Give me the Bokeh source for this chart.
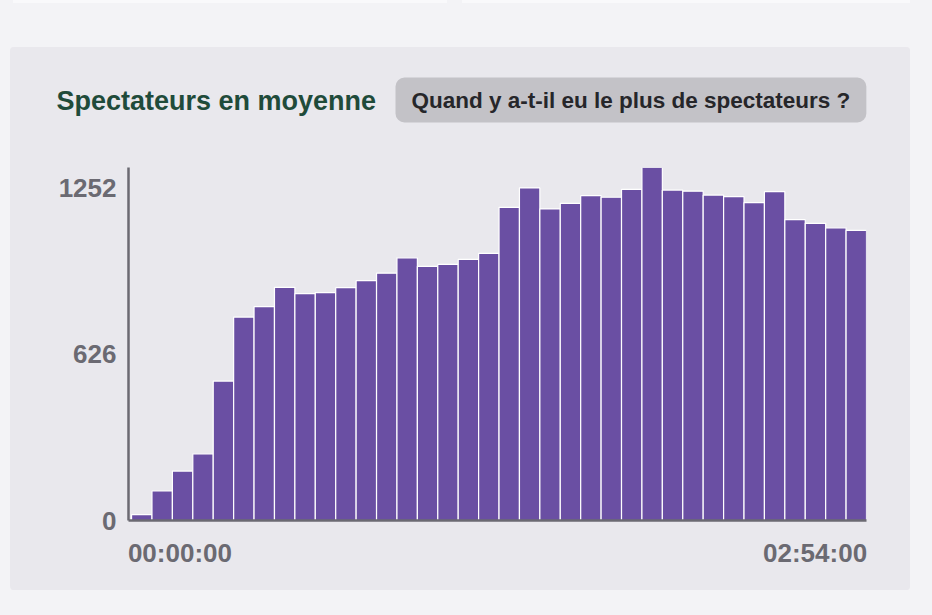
from bokeh.plotting import figure
from bokeh.models import Range1d, FixedTicker, Label, ColumnDataSource, Spacer
from bokeh.layouts import column, row
from bokeh.embed import file_html
from bokeh.resources import INLINE

# ---- data ----
bins = list(range(36))
spectators = [22, 111, 186, 251, 525, 766, 805, 878, 854, 858, 877, 903,
              931, 989, 957, 964, 983, 1006, 1179, 1252, 1173, 1194, 1223, 1217,
              1247, 1329, 1244, 1240, 1225, 1219, 1197, 1238, 1133, 1119, 1102, 1092]
y_ticks = [0, 626, 1252]
x_tick_labels = ["00:00:00", "02:54:00"]
title_text = "Spectateurs en moyenne"
button_text = "Quand y a-t-il eu le plus de spectateurs ?"

FONT = "Liberation Sans"
AXIS_COL = "#6b6a72"
BAR_COL = "#6a4fa3"
PANEL = "#e9e8ed"
PAGE = "#f3f3f6"
CARD = "#f9f9fb"

W = 900
HEAD_H = 110
H = 433
FL, FR, FT, FB = 118, 44, 10, 70
x0, x1 = -0.15, len(bins)
TICK_FS = 26

# ---- header (title + button) ----
head = figure(width=W, height=HEAD_H, output_backend="svg", toolbar_location=None,
              x_range=Range1d(0, W), y_range=Range1d(0, HEAD_H),
              x_axis_type=None, y_axis_type=None,
              min_border=0, min_border_left=0, min_border_right=0,
              min_border_top=0, min_border_bottom=0)
head.border_fill_color = PANEL
head.background_fill_color = PANEL
head.outline_line_color = None
head.xgrid.visible = False
head.ygrid.visible = False
head.add_layout(Label(x=46, y=57, x_units="screen", y_units="screen", text=title_text,
                      text_font=FONT, text_font_size="27px", text_font_style="bold",
                      text_color="#1f4b3a", text_baseline="middle", text_align="left"))
head.add_layout(Label(x=385, y=57.5, x_units="screen", y_units="screen", text=button_text,
                      text_font=FONT, text_font_size="22.5px", text_font_style="bold",
                      text_color="#26262a", text_baseline="middle", text_align="left",
                      background_fill_color="#c3c2c7", background_fill_alpha=1.0,
                      border_line_color=None, border_radius=9,
                      padding=dict(left=16, right=16, top=10, bottom=10)))

# ---- chart ----
src = ColumnDataSource(dict(left=bins, right=[b + 1 for b in bins], top=spectators))

p = figure(width=W, height=H, output_backend="svg", toolbar_location=None,
           x_range=Range1d(x0, x1), y_range=Range1d(0, max(spectators)),
           min_border_left=FL, min_border_right=FR, min_border_top=FT, min_border_bottom=FB)
p.border_fill_color = PANEL
p.background_fill_color = PANEL
p.outline_line_color = None
p.xgrid.visible = False
p.ygrid.visible = False

p.quad(left="left", right="right", bottom=0, top="top", source=src,
       fill_color=BAR_COL, line_color="white", line_width=1.2)

p.yaxis.ticker = FixedTicker(ticks=y_ticks)
# x axis: first and last time labels, aligned with the ends of the axis
px_per_unit = (W - FL - FR) / (x1 - x0)
half_label = TICK_FS * 3.96 / 2 / px_per_unit
xt = [round(x0 + half_label, 2), round(x1 - half_label, 2)]
p.xaxis.ticker = FixedTicker(ticks=xt)
p.xaxis.major_label_overrides = {xt[0]: x_tick_labels[0], xt[1]: x_tick_labels[1]}

for ax in (p.xaxis[0], p.yaxis[0]):
    ax.axis_line_color = AXIS_COL
    ax.axis_line_width = 2.5
    ax.major_tick_line_color = None
    ax.minor_tick_line_color = None
    ax.major_label_text_font = FONT
    ax.major_label_text_font_size = f"{TICK_FS}px"
    ax.major_label_text_font_style = "bold"
    ax.major_label_text_color = AXIS_COL
p.yaxis.major_label_standoff = 6
p.xaxis.major_label_standoff = 11

cards = row(Spacer(width=13, height=3),
            Spacer(width=434, height=3, styles={"background-color": CARD}),
            Spacer(width=15, height=3),
            Spacer(width=448, height=3, styles={"background-color": CARD}))
panel = column(row(head), row(p), width=W, height=HEAD_H + H,
               styles={"background-color": PANEL, "border-radius": "4px", "overflow": "hidden"})
page = column(cards, Spacer(width=10, height=44),
              row(Spacer(width=10, height=HEAD_H + H), panel),
              width=932, height=615, styles={"background-color": PAGE})

open("out.html", "w").write(file_html(page, INLINE))
